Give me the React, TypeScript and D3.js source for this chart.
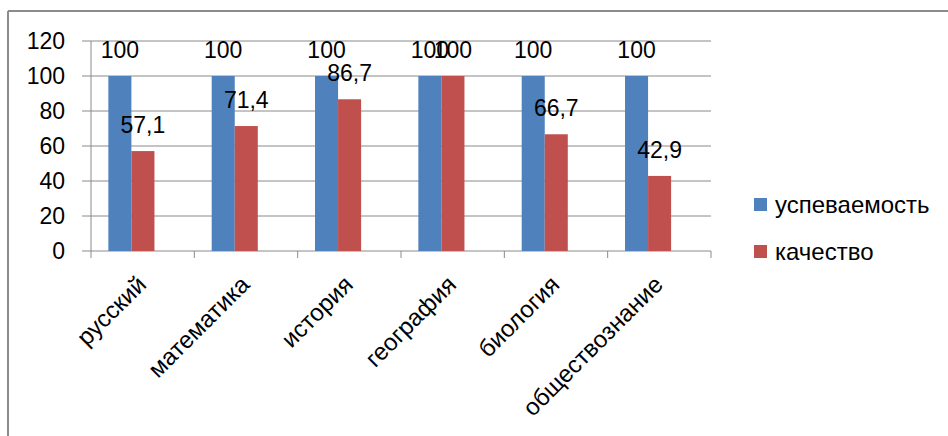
import React from "react";
import * as d3 from "d3";

const categories = ["русский", "математика", "история", "география", "биология", "обществознание"];
const seriesNames = ["успеваемость", "качество"];
const uspevaemost = [100, 100, 100, 100, 100, 100];
const kachestvo = [57.1, 71.4, 86.7, 100, 66.7, 42.9];
const labelsUsp = ["100", "100", "100", "100", "100", "100"];
const labelsKach = ["57,1", "71,4", "86,7", "100", "66,7", "42,9"];
const yTicks = [0, 20, 40, 60, 80, 100, 120];
const colors = ["#4F81BD", "#C0504D"];

const W = 948;
const H = 436;
const FONT = "'Liberation Sans', Arial, sans-serif";

export default function App() {
  const left = 91, right = 711, top = 41, bottom = 251;
  const x = d3.scaleBand<string>().domain(categories).range([left, right]).padding(0);
  const y = d3.scaleLinear().domain([0, 120]).range([bottom, top]);
  const bw = x.bandwidth();
  const inner = d3.scaleBand<string>().domain(seriesNames).range([bw * 0.168, bw * 0.614]).padding(0);
  const series = [uspevaemost, kachestvo];
  const labels = [labelsUsp, labelsKach];
  const grid = "#8a8a8a";

  return (
    <div style={{ position: "absolute", left: 0, top: 0 }}>
      <svg width={W} height={H} style={{ display: "block", background: "#fff" }}>
        <rect x={0} y={0} width={W} height={H} fill="#fff" />
        {/* frame */}
        <line x1={8} y1={11} x2={W} y2={11} stroke="#8c8c8c" strokeWidth={2} />
        <line x1={8} y1={11} x2={8} y2={H} stroke="#8c8c8c" strokeWidth={2} />

        {/* gridlines */}
        {yTicks.map((t) => (
          <g key={t}>
            <line x1={left - 9} x2={right} y1={y(t)} y2={y(t)} stroke={grid} strokeWidth={1} />
            <text x={65} y={y(t)} dy="0.36em" textAnchor="end" fontFamily={FONT} fontSize={23} fill="#000">
              {t}
            </text>
          </g>
        ))}
        {/* y axis */}
        <line x1={left} x2={left} y1={top} y2={bottom} stroke={grid} strokeWidth={1} />
        {/* x ticks */}
        {categories.map((c) => (
          <line key={c} x1={x(c)!} x2={x(c)!} y1={bottom} y2={bottom + 7} stroke={grid} strokeWidth={1} />
        ))}
        <line x1={right} x2={right} y1={bottom} y2={bottom + 7} stroke={grid} strokeWidth={1} />

        {/* bars */}
        {series.map((vals, si) =>
          vals.map((v, i) => {
            const bx = x(categories[i])! + inner(seriesNames[si])!;
            return (
              <rect
                key={`${si}-${i}`}
                x={bx}
                y={y(v)}
                width={inner.bandwidth()}
                height={y(0) - y(v)}
                fill={colors[si]}
              />
            );
          })
        )}

        {/* data labels */}
        {series.map((vals, si) =>
          vals.map((v, i) => {
            const cx = x(categories[i])! + inner(seriesNames[si])! + inner.bandwidth() / 2;
            return (
              <text
                key={`l-${si}-${i}`}
                x={cx}
                y={y(v) - 18}
                textAnchor="middle"
                fontFamily={FONT}
                fontSize={23}
                fill="#000"
              >
                {labels[si][i]}
              </text>
            );
          })
        )}

        {/* x labels */}
        {categories.map((c) => {
          const ax = x(c)! + bw / 2 + 5;
          const ay = bottom + 35;
          return (
            <text
              key={`x-${c}`}
              transform={`translate(${ax},${ay}) rotate(-45)`}
              textAnchor="end"
              fontFamily={FONT}
              fontSize={24}
              fill="#000"
            >
              {c}
            </text>
          );
        })}

        {/* legend */}
        {seriesNames.map((s, i) => (
          <g key={s} transform={`translate(754,${198 + i * 47})`}>
            <rect x={0} y={0} width={13} height={13} fill={colors[i]} />
            <text x={21} y={15} fontFamily={FONT} fontSize={24} fill="#000">
              {s}
            </text>
          </g>
        ))}
      </svg>
    </div>
  );
}
